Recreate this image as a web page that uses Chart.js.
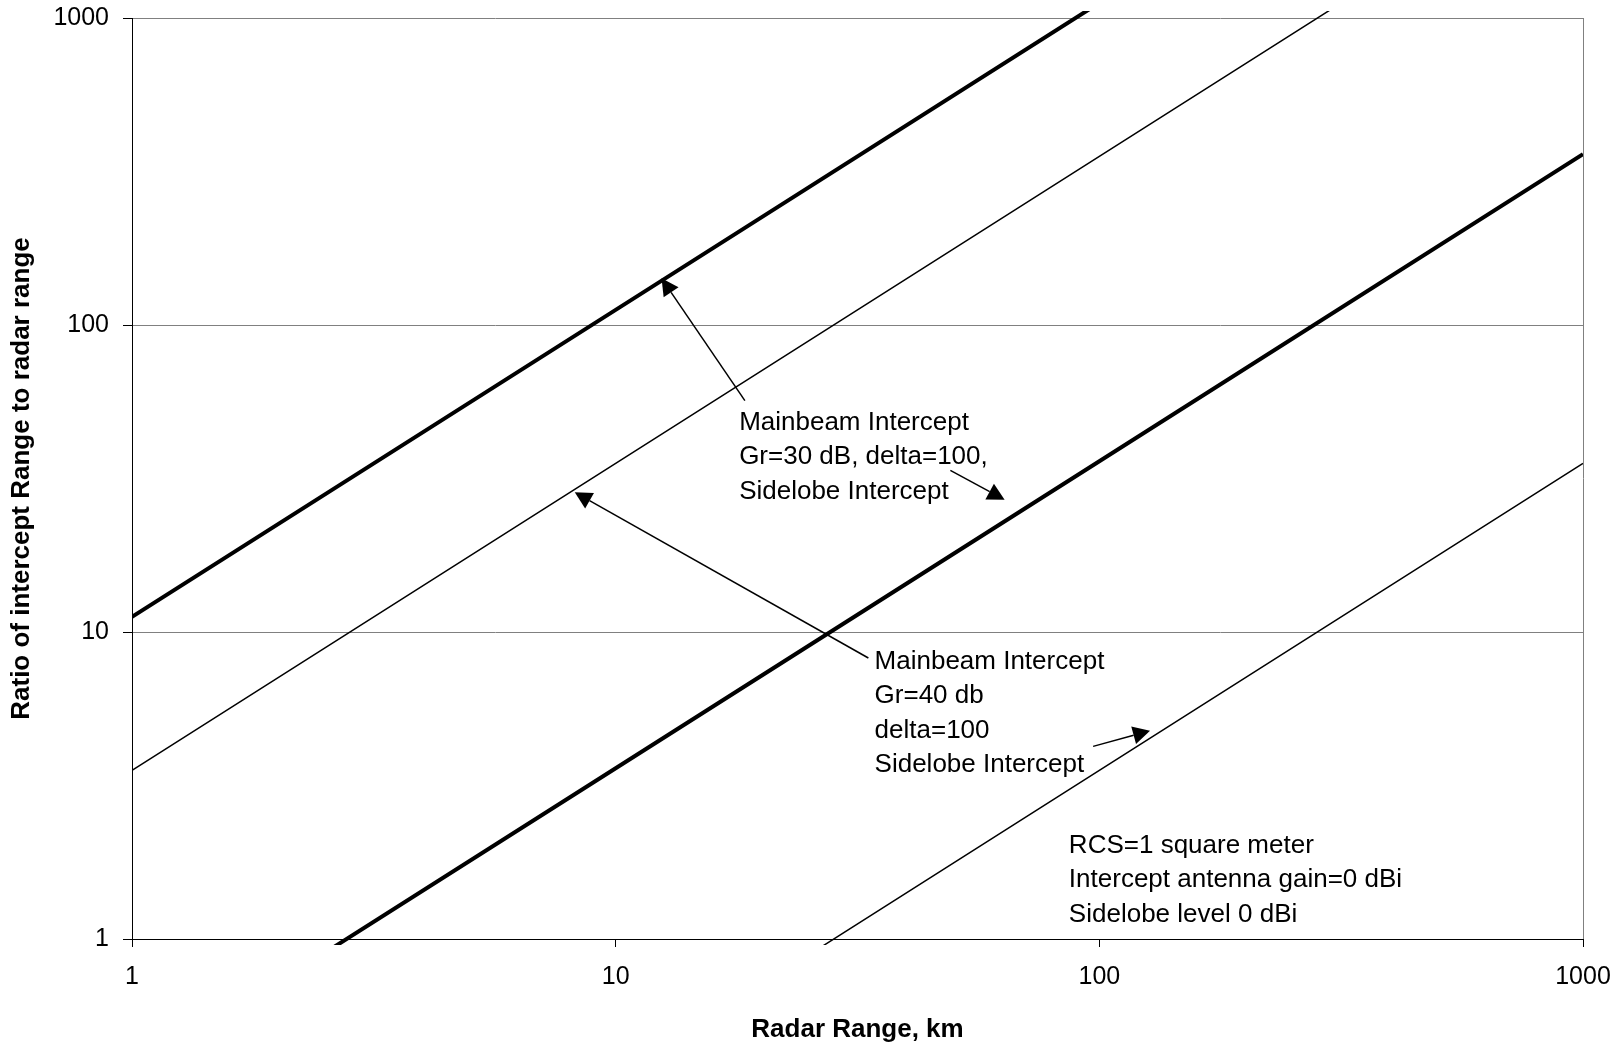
<!DOCTYPE html>
<html>
<head>
<meta charset="utf-8">
<title>Intercept range vs radar range</title>
<script src="https://cdn.jsdelivr.net/npm/chart.js@4.4.1/dist/chart.umd.min.js"></script>
<style>
    html, body { margin: 0; padding: 0; background: #fff; }
    #chart-wrap { width: 1621px; height: 1043px; }
</style>
</head>
<body>
<div id="chart-wrap">
    <canvas id="main-chart" width="1621" height="1043"></canvas>
</div>
<script>
// Radar range, km (x) and the ratio intercept range / radar range (y)
const radarRange = [1, 10, 100, 1000];
const mainbeam30 = [11.2, 112, 1120, 11200];
const mainbeam40 = [3.54, 35.4, 354, 3540];
const sidelobe30 = [0.36, 3.6, 36, 360];
const sidelobe40 = [0.0354, 0.354, 3.54, 35.4];

const xTicks = [1, 10, 100, 1000];
const yTicks = [1, 10, 100, 1000];

// Callouts: text anchor (data coords) and arrows tail -> tip (data coords)
const noteLabels = [
    ['Mainbeam Intercept', 'Gr=30 dB, delta=100,', 'Sidelobe Intercept'],
    ['Mainbeam Intercept', 'Gr=40 db', 'delta=100', 'Sidelobe Intercept'],
    ['RCS=1 square meter', 'Intercept antenna gain=0 dBi', 'Sidelobe level 0 dBi']
];
const noteAnchors = [[18.0, 45.5], [34.3, 7.59], [86.5, 1.91]];
const arrowTails = [[18.5, 56.7], [49.2, 33.6], [33.3, 8.23], [97.1, 4.24]];
const arrowTips = [[12.44, 142], [63.7, 26.96], [8.23, 28.5], [127.3, 4.77]];

const FONT = '"Liberation Sans", Arial, sans-serif';

const toPoints = (ys) => radarRange.map((x, i) => ({ x: x, y: ys[i] }));

const Callouts = {
    id: 'callouts',
    afterDraw: (chart) => {
        const ctx = chart.ctx;
        const xs = chart.scales.x;
        const ys = chart.scales.y;
        const px = (p) => [xs.getPixelForValue(p[0]), ys.getPixelForValue(p[1])];

        ctx.save();
        ctx.fillStyle = '#000';
        ctx.strokeStyle = '#000';

        // text blocks
        ctx.font = '26px ' + FONT;
        ctx.textAlign = 'left';
        ctx.textBaseline = 'alphabetic';
        noteLabels.forEach((lines, i) => {
            const [x, y] = px(noteAnchors[i]);
            lines.forEach((t, k) => ctx.fillText(t, x, y + k * 34.5));
        });

        // arrows
        ctx.lineWidth = 1.5;
        arrowTails.forEach((tail, i) => {
            const [x0, y0] = px(tail);
            const [x1, y1] = px(arrowTips[i]);
            const a = Math.atan2(y1 - y0, x1 - x0);
            const len = 17, half = 9;
            const bx = x1 - len * Math.cos(a);
            const by = y1 - len * Math.sin(a);
            ctx.beginPath();
            ctx.moveTo(x0, y0);
            ctx.lineTo(bx, by);
            ctx.stroke();
            ctx.beginPath();
            ctx.moveTo(x1, y1);
            ctx.lineTo(bx + half * Math.sin(a), by - half * Math.cos(a));
            ctx.lineTo(bx - half * Math.sin(a), by + half * Math.cos(a));
            ctx.closePath();
            ctx.fill();
        });
        ctx.restore();
    }
};

const lineSet = (ys, width) => ({
    data: toPoints(ys),
    showLine: true,
    borderColor: '#000',
    backgroundColor: '#000',
    borderWidth: width,
    pointRadius: 0,
    fill: false,
    clip: { left: 0, top: 7, right: 0, bottom: 6 }
});

window.addEventListener('DOMContentLoaded', () => {
    const canvas = document.getElementById('main-chart');

    new Chart(canvas, {
        type: 'scatter',
        data: {
            datasets: [
                lineSet(mainbeam30, 4),
                lineSet(mainbeam40, 1.5),
                lineSet(sidelobe30, 4),
                lineSet(sidelobe40, 1.5)
            ]
        },
        options: {
            responsive: false,
            animation: false,
            devicePixelRatio: 1,
            layout: { padding: { top: 18, right: 38, bottom: 0, left: 0 } },
            plugins: {
                legend: { display: false },
                tooltip: { enabled: false }
            },
            scales: {
                x: {
                    type: 'logarithmic',
                    position: 'bottom',
                    min: 1,
                    max: 1000,
                    afterBuildTicks: (s) => { s.ticks = xTicks.map(v => ({ value: v })); },
                    afterFit: (s) => {
                        s.height = 104;
                        s.paddingLeft = 0;
                        s.paddingRight = 0;
                    },
                    ticks: {
                        color: '#000',
                        font: { family: FONT, size: 25 },
                        padding: 15,
                        maxRotation: 0,
                        autoSkip: false,
                        callback: (v) => String(v)
                    },
                    grid: {
                        drawOnChartArea: true,
                        color: (c) => (c.tick && c.tick.value === 1000) ? '#808080' : 'rgba(0,0,0,0)',
                        tickColor: '#000',
                        tickLength: 8,
                        lineWidth: 1
                    },
                    border: { color: '#000', width: 1 },
                    title: {
                        display: true,
                        text: 'Radar Range, km',
                        color: '#000',
                        font: { family: FONT, size: 26, weight: 'bold', lineHeight: 1.0 },
                        padding: { top: 0, bottom: 0 }
                    }
                },
                y: {
                    type: 'logarithmic',
                    position: 'left',
                    min: 1,
                    max: 1000,
                    afterBuildTicks: (s) => { s.ticks = yTicks.map(v => ({ value: v })); },
                    afterFit: (s) => {
                        s.width = 132;
                        s.paddingTop = 0;
                        s.paddingBottom = 0;
                    },
                    ticks: {
                        color: '#000',
                        font: { family: FONT, size: 25 },
                        padding: 14,
                        autoSkip: false,
                        callback: (v) => String(v)
                    },
                    grid: {
                        color: (c) => (c.tick && c.tick.value === 1) ? 'rgba(0,0,0,0)' : '#808080',
                        tickColor: '#000',
                        tickLength: 9,
                        lineWidth: 1
                    },
                    border: { color: '#000', width: 1 },
                    title: {
                        display: true,
                        text: 'Ratio of intercept Range to radar range',
                        color: '#000',
                        font: { family: FONT, size: 26, weight: 'bold' },
                        padding: { top: 6, bottom: 0 }
                    }
                }
            }
        },
        plugins: [Callouts]
    });
});
</script>
</body>
</html>
